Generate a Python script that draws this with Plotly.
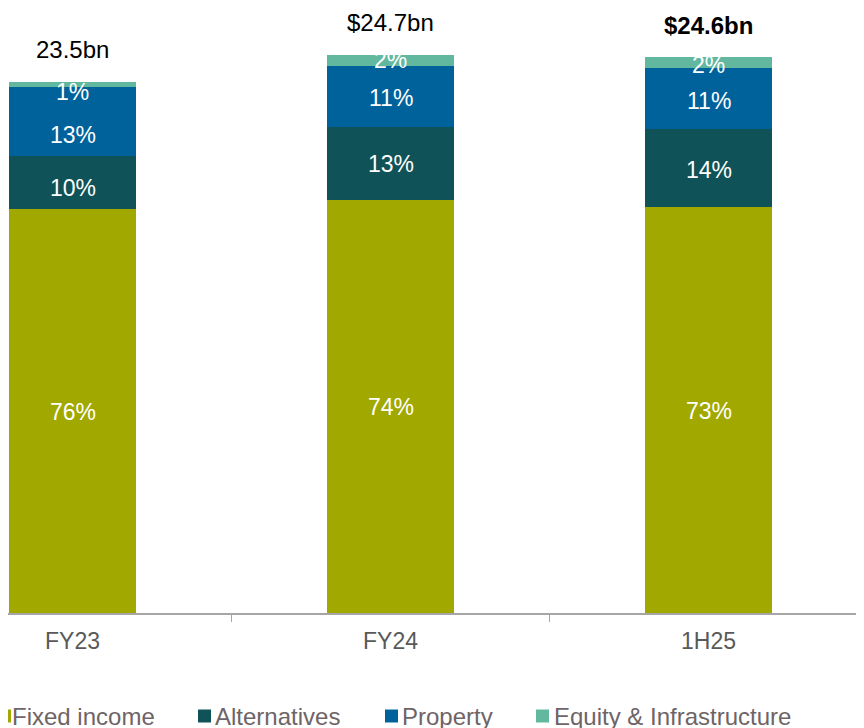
import plotly.graph_objects as go

categories = ["FY23", "FY24", "1H25"]
totals_bn = [23.5, 24.7, 24.6]
total_labels = ["23.5bn", "$24.7bn", "<b>$24.6bn</b>"]

series_names = ["Fixed income", "Alternatives", "Property", "Equity & Infrastructure"]
fixed_income_pct = [76, 74, 73]
alternatives_pct = [10, 13, 14]
property_pct = [13, 11, 11]
equity_infra_pct = [1, 2, 2]

colors = ["#A1A800", "#0F5257", "#00629B", "#62B89F"]

series_pct = [fixed_income_pct, alternatives_pct, property_pct, equity_infra_pct]

# small vertical nudges (px, negative = down) of the in-bar labels, as in the reference
label_nudge = [
    [-1, -1, -1],
    [-5, 0, -2],
    [-13, -1, -2],
    [-7, 0, -2],
]

FONT = "Liberation Sans, Arial, sans-serif"
W, H = 864, 728
OFF = 8  # browser body margin offset
PLOT_BOTTOM = 613 - OFF  # figure px where the axis sits

fig = go.Figure()
annotations = []
shapes = []
cum = [0.0] * len(categories)
for name, pct, col, nudge in zip(series_names, series_pct, colors, label_nudge):
    vals = [p * t / 100 for p, t in zip(pct, totals_bn)]
    fig.add_trace(go.Bar(
        x=categories, y=vals, name=name,
        marker=dict(color=col, line=dict(width=0)),
        width=0.4, hoverinfo="skip", showlegend=False,
    ))
    for i, (c, v, p) in enumerate(zip(categories, vals, pct)):
        annotations.append(dict(
            x=c, y=cum[i] + v / 2, text=f"{p}%", showarrow=False,
            font=dict(family=FONT, size=23, color="white"),
            xanchor="center", yanchor="middle", yshift=nudge[i],
        ))
        cum[i] += v

for c, t, lab in zip(categories, totals_bn, total_labels):
    annotations.append(dict(
        x=c, y=t, text=lab, showarrow=False, yshift=32,
        font=dict(family=FONT, size=24, color="black"),
        xanchor="center", yanchor="middle",
    ))


def px_x(v):
    return (v - OFF) / W


def px_y(v):
    return (PLOT_BOTTOM - (v - OFF)) / PLOT_BOTTOM


# Legend (drawn manually to match the reference spacing); page pixel positions
legend_square_left_px = [-2, 198, 385, 536]
legend_text_left_px = [10, 213, 400, 552]
legend_square_cy = 716
legend_text_cy = 716
sq = 13
for name, col, lx, tx in zip(series_names, colors, legend_square_left_px, legend_text_left_px):
    shapes.append(dict(
        type="rect", xref="paper", yref="paper",
        x0=px_x(lx), x1=px_x(lx + sq),
        y0=px_y(legend_square_cy + sq / 2), y1=px_y(legend_square_cy - sq / 2),
        fillcolor=col, line=dict(width=0),
    ))
    annotations.append(dict(
        xref="paper", yref="paper", x=px_x(tx), y=px_y(legend_text_cy),
        text=name, showarrow=False, xanchor="left", yanchor="middle",
        font=dict(family=FONT, size=24, color="#6E6466"),
    ))

# category axis: bar centres at page x 72.5 + 318*k
x0 = -(72.5 - OFF) / 318
x1 = (W - (72.5 - OFF)) / 318

fig.update_layout(
    barmode="stack",
    width=W, height=H,
    margin=dict(l=0, r=0, t=0, b=H - PLOT_BOTTOM, pad=0, autoexpand=False),
    paper_bgcolor="white", plot_bgcolor="white",
    annotations=annotations,
    shapes=shapes,
    showlegend=False,
    xaxis=dict(
        type="category", range=[x0, x1],
        showline=True, linecolor="#A6A6A6", linewidth=1.5,
        ticks="outside", tickson="boundaries", ticklen=7, tickcolor="#A6A6A6",
        ticklabelstandoff=7,
        tickfont=dict(family=FONT, size=23, color="#595959"),
        showgrid=False, zeroline=False,
    ),
    yaxis=dict(range=[0, PLOT_BOTTOM / 22.6], visible=False, showgrid=False, zeroline=False),
)

fig.write_html("out.html")
